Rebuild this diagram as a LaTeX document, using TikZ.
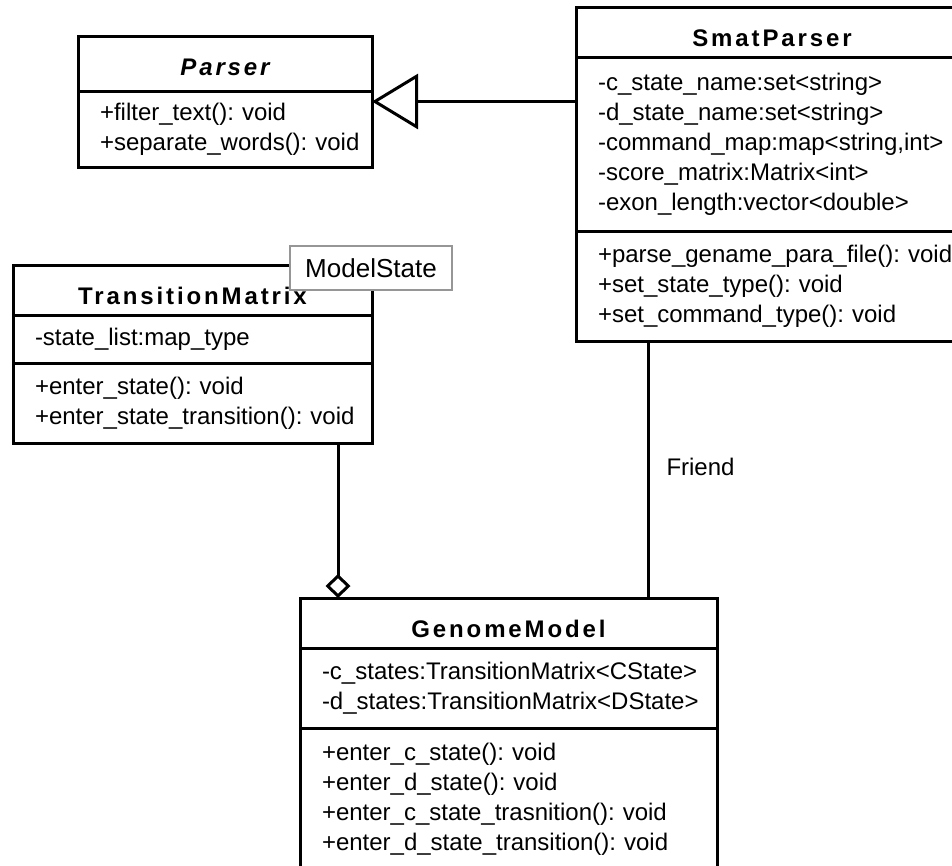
\documentclass[tikz,border=0pt]{standalone}
\usepackage{fontspec}
\setmainfont{Liberation Sans}
\newfontfamily\headfont[LetterSpace=12]{Liberation Sans}
\usetikzlibrary{arrows.meta,calc}
\definecolor{tmplgray}{RGB}{150,150,150}
\newcommand{\member}[1]{\hspace*{22pt}\strut\mbox{#1}}
\frenchspacing

\begin{document}
\begin{tikzpicture}[x=1pt,y=-1pt,
  every node/.style={font=\fontsize{24}{30}\selectfont},
  classhead/.style={draw,line width=3pt,outer sep=0pt,inner sep=0pt,anchor=north west,
    minimum height=50pt,text height=29pt,text depth=0pt,font=\headfont\bfseries\fontsize{24}{30}\selectfont},
  classpart/.style={draw,line width=3pt,outer sep=0pt,inner xsep=0pt,inner ysep=10pt,
    anchor=north west,align=left},
  generalization/.style={line width=3pt,-{Triangle[open,length=46pt,width=55pt]}},
  aggregation/.style={line width=3pt,-{Diamond[open,length=24pt,width=25pt]}},
  friendship/.style={line width=3pt}]
\useasboundingbox (0,0) rectangle (952,865);
\clip (0,0) rectangle (952,865);
% Parser
\node[classhead,minimum width=294pt,minimum height=55pt,text height=23pt] (parserhead) at (78,36) {\itshape Parser};
\node[classpart,text width=294pt,inner ysep=8pt] (parsermeth) at (parserhead.south west)
  {\member{+filter\_text(): void}\\\member{+separate\_words(): void}};
% SmatParser
\node[classhead,minimum width=392pt] (smhead) at (576,7) {SmatParser};
\node[classpart,text width=392pt,inner ysep=12pt] (smattr) at (smhead.south west)
  {\member{-c\_state\_name:set<string>}\\\member{-d\_state\_name:set<string>}\\
   \member{-command\_map:map<string,int>}\\\member{-score\_matrix:Matrix<int>}\\
   \member{-exon\_length:vector<double>}};
\node[classpart,text width=392pt] (smmeth) at (smattr.south west)
  {\member{+parse\_gename\_para\_file(): void}\\\member{+set\_state\_type(): void}\\
   \member{+set\_command\_type(): void}};
% TransitionMatrix
\node[classhead,minimum width=359pt] (tmhead) at (13,265) {TransitionMatrix};
\node[classpart,text width=359pt,inner ysep=9pt] (tmattr) at (tmhead.south west)
  {\member{-state\_list:map\_type}};
\node[classpart,text width=359pt] (tmmeth) at (tmattr.south west)
  {\member{+enter\_state(): void}\\\member{+enter\_state\_transition(): void}};
\node[draw=tmplgray,line width=2pt,fill=white,anchor=north west,minimum width=162pt,
  minimum height=44pt,inner sep=0pt,font=\fontsize{26}{30}\selectfont] (tmpl) at (289,245) {ModelState};
% GenomeModel
\node[classhead,minimum width=417pt] (gmhead) at (300,598) {GenomeModel};
\node[classpart,text width=417pt] (gmattr) at (gmhead.south west)
  {\member{-c\_states:TransitionMatrix<CState>}\\\member{-d\_states:TransitionMatrix<DState>}};
\node[classpart,text width=417pt,inner ysep=11pt] (gmmeth) at (gmattr.south west)
  {\member{+enter\_c\_state(): void}\\\member{+enter\_d\_state(): void}\\
   \member{+enter\_c\_state\_trasnition(): void}\\\member{+enter\_d\_state\_transition(): void}};
% relations
\coordinate (parserright) at ($(parserhead.north east)!0.5!(parsermeth.south east)$);
\draw[generalization] (parserright -| smhead.west) -- (parserright);
\coordinate (aggend) at ([xshift=38pt]gmhead.north west);
\draw[aggregation] (aggend |- tmmeth.south) -- (aggend);
\coordinate (friendstart) at ([xshift=72pt]smmeth.south west);
\draw[friendship] (friendstart) -- (friendstart |- gmhead.north)
  node[midway,right=17pt,inner sep=0pt,yshift=3pt] (friendlabel) {Friend};
\end{tikzpicture}
\end{document}
